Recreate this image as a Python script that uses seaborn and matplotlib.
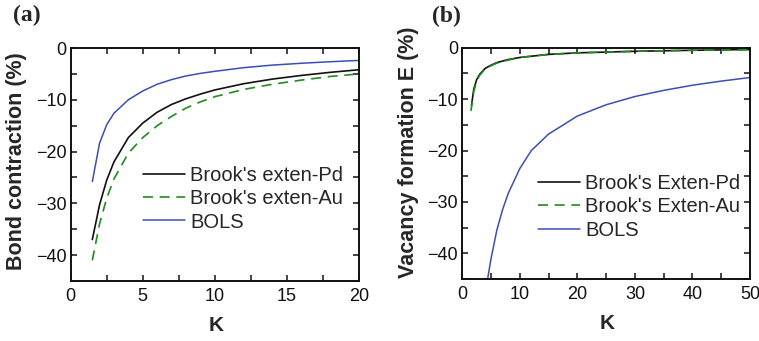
import numpy as np
import pandas as pd
import matplotlib
matplotlib.use("Agg")
import matplotlib.pyplot as plt
import seaborn as sns
from matplotlib.ticker import MultipleLocator

# panel (a): bond contraction vs K
k_a = [1.5, 2, 2.5, 3, 4, 5, 6, 7, 8, 9, 10, 12, 14, 16, 18, 20]
pd_a = [-37, -30.3, -25.5, -22, -17.3, -14.5, -12.4, -10.9, -9.8, -8.9, -8.1, -6.9, -6.0, -5.3, -4.7, -4.2]
au_a = [-41, -34, -29, -25.3, -20.3, -17.3, -15.0, -13.2, -11.6, -10.4, -9.4, -8.0, -7.0, -6.2, -5.5, -5.0]
bols_a = [-25.8, -18.4, -14.8, -12.6, -10.0, -8.3, -7.0, -6.1, -5.4, -4.9, -4.5, -3.8, -3.3, -2.95, -2.65, -2.4]

# panel (b): vacancy formation energy vs K
k_b_pd = [1.6, 2, 2.5, 3, 4, 5, 6, 8, 10, 15, 20, 30, 40, 50]
pd_b = [-11.2, -8.0, -6.2, -5.2, -4.0, -3.4, -2.9, -2.3, -1.9, -1.3, -1.0, -0.7, -0.5, -0.35]
k_b_au = [1.5, 2, 2.5, 3, 4, 5, 6, 8, 10, 15, 20, 30, 40, 50]
au_b = [-12.3, -8.5, -6.5, -5.4, -4.1, -3.5, -3.0, -2.4, -1.9, -1.3, -1.0, -0.7, -0.5, -0.4]
k_b_bols = [4.4, 5, 6, 7, 8, 10, 12, 15, 20, 25, 30, 35, 40, 45, 50]
bols_b = [-45, -41, -35.5, -31.5, -28.3, -23.5, -20, -16.8, -13.3, -11.1, -9.5, -8.3, -7.3, -6.5, -5.8]

BLACK = "#111111"
GREEN = "#1f8c1f"
BLUE = "#3a4fb5"

sns.set_theme(style="ticks")
plt.rcParams["font.family"] = ["Liberation Sans", "DejaVu Sans"]
plt.rcParams["axes.linewidth"] = 1.4

fig = plt.figure(figsize=(7.59, 3.41), dpi=100)
ax_a = fig.add_axes([70.7 / 759, 1 - 281 / 341, 288.3 / 759, 233 / 341])
ax_b = fig.add_axes([462.3 / 759, 1 - 279 / 341, 287.7 / 759, 231.3 / 341])


def style_axes(ax, xmax, xmajor, xminor, ylabel, ypos):
    ax.set_xlim(0, xmax)
    ax.set_ylim(-45, 0)
    ax.xaxis.set_major_locator(MultipleLocator(xmajor))
    ax.xaxis.set_minor_locator(MultipleLocator(xminor))
    ax.yaxis.set_major_locator(MultipleLocator(10))
    ax.yaxis.set_minor_locator(MultipleLocator(5))
    ax.tick_params(which="both", direction="in", top=True, right=True,
                   length=4, width=1.1, labelsize=13, colors="#111111")
    ax.tick_params(axis="x", pad=5)
    ax.tick_params(axis="y", pad=3)
    ax.set_xlabel("K", fontsize=15, fontweight="bold")
    ax.set_ylabel(ylabel, fontsize=15.5, fontweight="bold")
    ax.xaxis.set_label_coords(0.505, -0.15)
    ax.yaxis.set_label_coords(ypos[0], ypos[1])
    for s in ax.spines.values():
        s.set_color("#111111")


leg_kw = dict(loc="upper left", frameon=False, fontsize=14.5, handlelength=2.1,
              handletextpad=0.25, labelspacing=0.22, borderpad=0, borderaxespad=0)

# panel (a)
sns.lineplot(x=k_a, y=pd_a, ax=ax_a, color=BLACK, lw=1.2, label="Brook's exten-Pd")
sns.lineplot(x=k_a, y=au_a, ax=ax_a, color=GREEN, lw=1.2, label="Brook's exten-Au",
             dashes=False, linestyle=(0, (6, 4)))
sns.lineplot(x=k_a, y=bols_a, ax=ax_a, color=BLUE, lw=1.1, label="BOLS")
style_axes(ax_a, 20, 5, 2.5, "Bond contraction (%)", (-0.153, 0.515))
ax_a.legend(bbox_to_anchor=(0.25, 0.495), **leg_kw)

# panel (b)
sns.lineplot(x=k_b_pd, y=pd_b, ax=ax_b, color=BLACK, lw=1.2, label="Brook's Exten-Pd")
sns.lineplot(x=k_b_au, y=au_b, ax=ax_b, color=GREEN, lw=1.2, label="Brook's Exten-Au",
             dashes=False, linestyle=(0, (6, 4)))
sns.lineplot(x=k_b_bols, y=bols_b, ax=ax_b, color=BLUE, lw=1.1, label="BOLS")
style_axes(ax_b, 50, 10, 5, "Vacancy formation E (%)", (-0.149, 0.548))
ax_b.legend(bbox_to_anchor=(0.263, 0.455), **leg_kw)

fig.text(13 / 759, 1 - 15 / 341, "(a)", fontsize=17, fontweight="bold",
         family=["Liberation Serif", "DejaVu Serif"], va="center", ha="left")
fig.text(432 / 759, 1 - 16 / 341, "(b)", fontsize=17, fontweight="bold",
         family=["Liberation Serif", "DejaVu Serif"], va="center", ha="left")

fig.savefig("out.png", dpi=100)
